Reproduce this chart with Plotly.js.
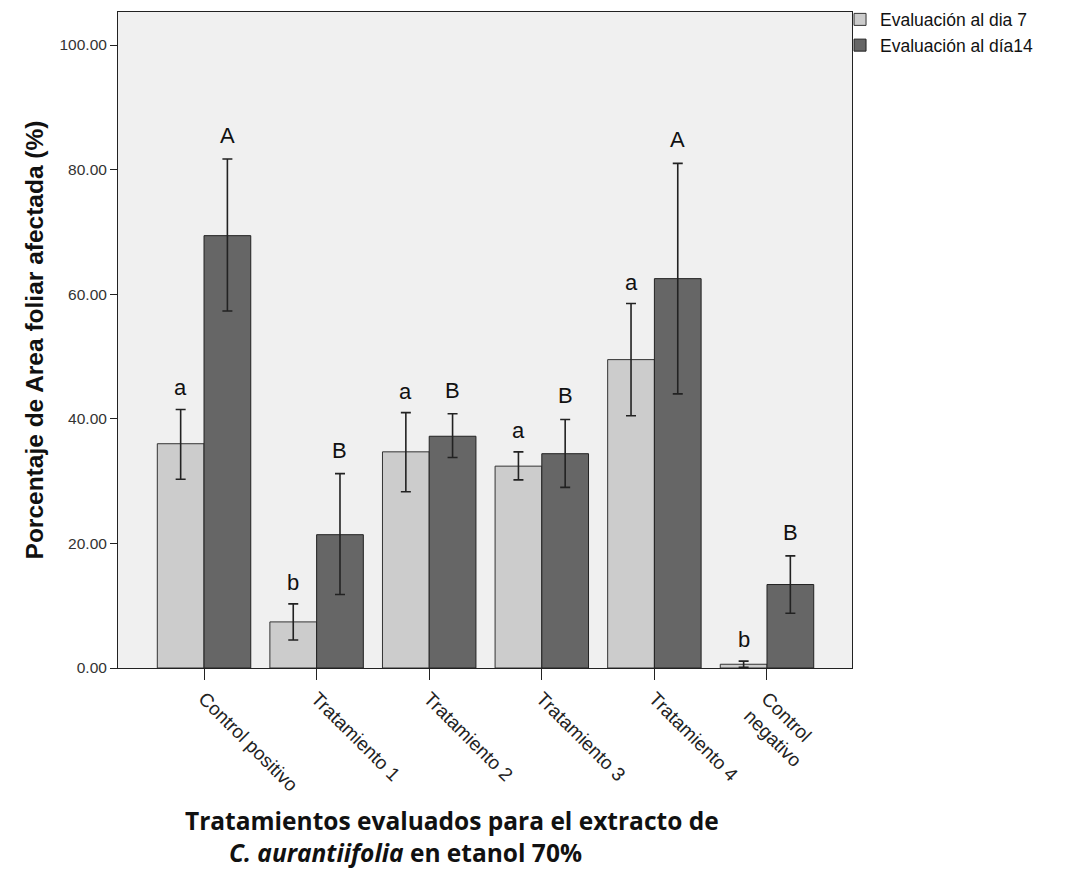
<!DOCTYPE html>
<html>
<head>
<meta charset="utf-8">
<script src="https://cdn.plot.ly/plotly-3.0.1.min.js"></script>
<style>html,body{margin:0;padding:0;background:#fff;}#chart{width:1067px;height:871px;}</style>
</head>
<body>
<div id="chart"></div>
<script>
const categories = ["Control positivo", "Tratamiento 1", "Tratamiento 2", "Tratamiento 3", "Tratamiento 4", "Control<br>negativo"];
const day7 = [36.0, 7.4, 34.7, 32.4, 49.5, 0.6];
const day7Upper = [41.5, 10.3, 41.0, 34.7, 58.5, 1.1];
const day7Lower = [30.3, 4.5, 28.3, 30.2, 40.5, 0.1];
const day14 = [69.4, 21.4, 37.2, 34.4, 62.5, 13.4];
const day14Upper = [81.7, 31.2, 40.8, 39.9, 81.0, 18.0];
const day14Lower = [57.3, 11.8, 33.8, 29.0, 44.0, 8.8];
const letters7 = ["a", "b", "a", "a", "a", "b"];
const letters14 = ["A", "B", "B", "B", "A", "B"];
const yTicks = [0, 20, 40, 60, 80, 100];
const seriesNames = ["Evaluación al dia 7", "Evaluación al día14"];

const idx = categories.map((c, i) => i);
const off = 0.2075;
function errs(vals, up, lo) {
  return {
    type: 'data', symmetric: false,
    array: up.map((u, i) => u - vals[i]),
    arrayminus: lo.map((l, i) => vals[i] - l),
    color: '#222', thickness: 1.6, width: 5
  };
}
const traces = [
  {type: 'bar', name: seriesNames[0], x: idx, y: day7, error_y: errs(day7, day7Upper, day7Lower),
   marker: {color: '#cccccc', line: {color: '#333', width: 1}}},
  {type: 'bar', name: seriesNames[1], x: idx, y: day14, error_y: errs(day14, day14Upper, day14Lower),
   marker: {color: '#666666', line: {color: '#222', width: 1}}}
];
const annotations = [];
const letterFont = {family: 'Liberation Sans, Arial', size: 22, color: '#111'};
idx.forEach(i => {
  annotations.push({x: i - off, y: day7Upper[i], xref: 'x', yref: 'y', text: letters7[i], showarrow: false,
    yanchor: 'bottom', yshift: 7, font: letterFont});
  annotations.push({x: i + off, y: day14Upper[i], xref: 'x', yref: 'y', text: letters14[i], showarrow: false,
    yanchor: 'bottom', yshift: 9, font: letterFont});
});
annotations.push({xref: 'paper', yref: 'paper', x: (452 - 118) / 734, y: -(820 - 668) / 656, text: '<b>Tratamientos evaluados para el extracto de</b>',
  showarrow: false, xanchor: 'center', yanchor: 'middle', font: {family: 'Open Sans', size: 24.5, color: '#111'}});
annotations.push({xref: 'paper', yref: 'paper', x: (227 - 118) / 734, y: -(852 - 668) / 656, text: '<b><i>C. aurantiifolia</i> en etanol 70%</b>',
  showarrow: false, xanchor: 'left', yanchor: 'middle', font: {family: 'Open Sans', size: 24.5, color: '#111'}});

const layout = {
  width: 1067, height: 871,
  margin: {l: 118, r: 215, t: 12, b: 203, autoexpand: false},
  paper_bgcolor: '#ffffff', plot_bgcolor: '#f0f0f0',
  barmode: 'group', bargap: 0.17, bargroupgap: 0,
  showlegend: true,
  legend: {x: 0.9837, y: 1.016, xanchor: 'left', yanchor: 'top', bgcolor: 'rgba(0,0,0,0)',
    font: {family: 'Liberation Sans, Arial', size: 17.5, color: '#111'}, tracegroupgap: 0, itemwidth: 30},
  xaxis: {range: [-0.764, 5.755], tickvals: idx, ticktext: categories, tickangle: 45,
    ticks: 'outside', ticklen: 11, tickcolor: '#222', tickwidth: 1,
    showline: true, linecolor: '#222', linewidth: 1, mirror: true, showgrid: false, zeroline: false,
    tickfont: {family: 'Liberation Sans, Arial', size: 19, color: '#222'}},
  yaxis: {range: [0, 105.3], tickvals: yTicks, ticktext: yTicks.map(v => v.toFixed(2)),
    ticks: 'outside', ticklen: 7, tickcolor: '#222', tickwidth: 1,
    showline: true, linecolor: '#222', linewidth: 1, mirror: true, showgrid: false, zeroline: false,
    tickfont: {family: 'Liberation Sans, Arial', size: 15.5, color: '#333'},
    title: {text: '<b>Porcentaje de Area foliar afectada (%)</b>', standoff: 8,
      font: {family: 'Liberation Sans, Arial', size: 24.5, color: '#111'}}},
  annotations: annotations
};
Plotly.newPlot('chart', traces, layout, {displayModeBar: false, staticPlot: true});
</script>
</body>
</html>
